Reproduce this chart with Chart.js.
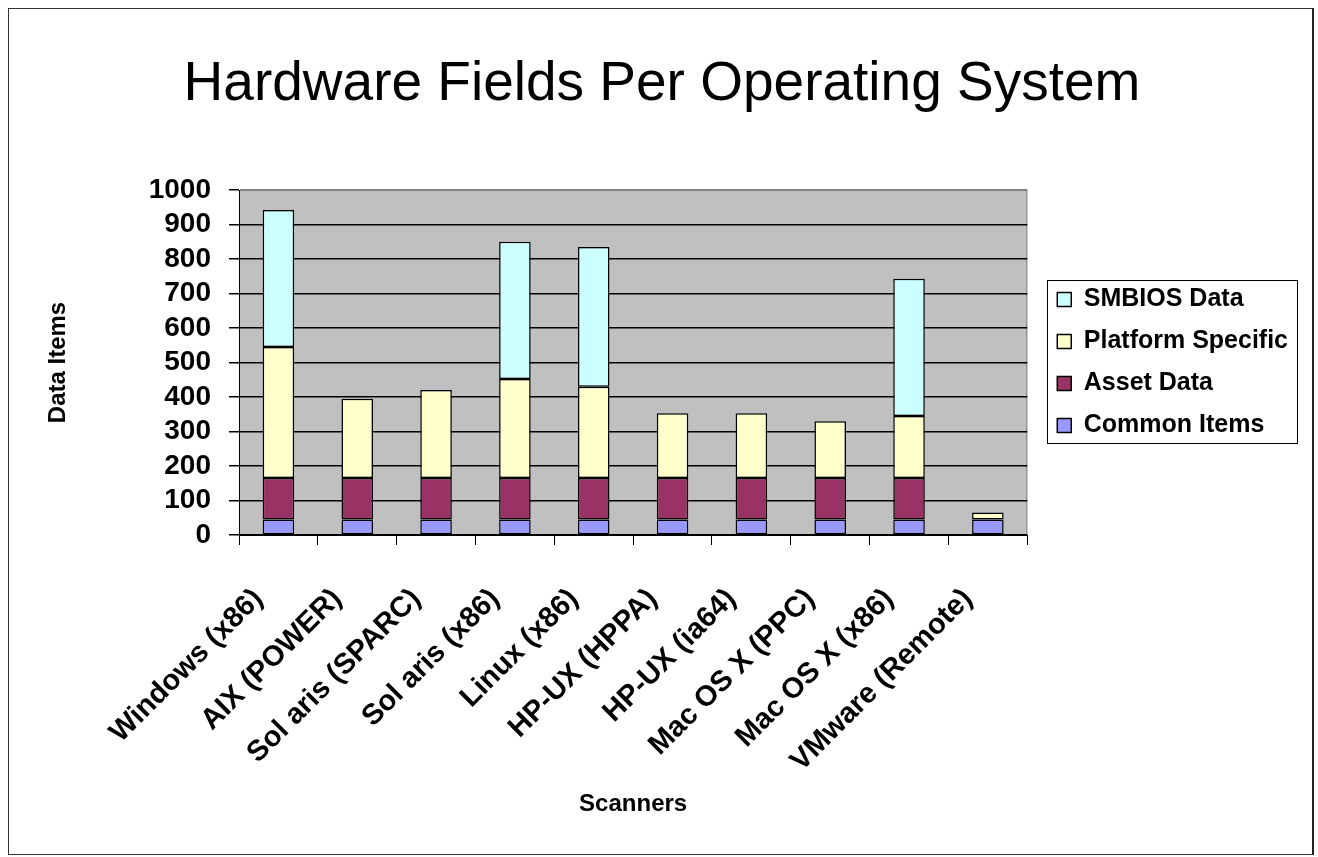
<!DOCTYPE html>
<html lang="en">
<head>
    <meta charset="UTF-8">
    <title>Hardware Fields Per Operating System</title>
    <script src="https://cdn.jsdelivr.net/npm/chart.js"></script>
    <style>
        body {
            margin: 0;
            background-color: #fff;
        }

        #frame {
            position: absolute;
            left: 8px;
            top: 8px;
            width: 1303px;
            height: 845px;
            border: 1px solid #333;
            border-right: 2px solid #222;
        }

        #chartBox {
            position: absolute;
            left: 0;
            top: 0;
            width: 1318px;
            height: 857px;
        }
    </style>
</head>
<body>
    <div id="frame"></div>
    <div id="chartBox">
        <canvas id="hwChart" width="1318" height="857"></canvas>
    </div>

    <script>
        // Data
        var scanners = ['Windows (x86)', 'AIX (POWER)', 'Sol aris (SPARC)', 'Sol aris (x86)', 'Linux (x86)',
            'HP-UX (HPPA)', 'HP-UX (ia64)', 'Mac OS X (PPC)', 'Mac OS X (x86)', 'VMware (Remote)'];
        var commonItems = [45, 45, 45, 45, 45, 45, 45, 45, 45, 45];
        var assetData = [120, 120, 120, 120, 120, 120, 120, 120, 120, 0];
        var platformSpecific = [380, 230, 255, 287, 265, 188, 188, 165, 180, 20];
        var smbiosData = [397, 0, 0, 398, 405, 0, 0, 0, 398, 0];

        // Fill the plot area grey and draw its outline
        var plotBackground = {
            id: 'plotBackground',
            beforeDraw: function(chart) {
                var a = chart.chartArea;
                var ctx = chart.ctx;
                ctx.save();
                ctx.fillStyle = '#c0c0c0';
                ctx.fillRect(a.left, a.top, a.right - a.left, a.bottom - a.top);
                ctx.strokeStyle = '#808080';
                ctx.lineWidth = 1;
                ctx.strokeRect(a.left + 0.5, a.top + 0.5, a.right - a.left - 1, a.bottom - a.top);
                ctx.restore();
            }
        };

        // Frame round the legend items
        var legendFrame = {
            id: 'legendFrame',
            afterDraw: function(chart) {
                var lg = chart.legend;
                if (!lg || !lg.legendHitBoxes.length) return;
                var boxes = lg.legendHitBoxes;
                var first = boxes[0];
                var last = boxes[boxes.length - 1];
                var ctx = chart.ctx;
                var x0 = first.left - 10;
                var y0 = first.top - 7;
                var x1 = lg.right - 1;
                var y1 = last.top + last.height + 5;
                ctx.save();
                ctx.strokeStyle = '#000';
                ctx.lineWidth = 1;
                ctx.strokeRect(Math.round(x0) + 0.5, Math.round(y0) + 0.5, Math.round(x1 - x0), Math.round(y1 - y0));
                ctx.restore();
            }
        };

        function makeSet(label, values, colour) {
            return {
                label: label,
                data: values,
                backgroundColor: colour,
                borderColor: '#000',
                borderWidth: 1.5,
                borderSkipped: false,
                barPercentage: 0.4,
                categoryPercentage: 1.0
            };
        }

        var ctx = document.getElementById('hwChart').getContext('2d');
        var hwChart = new Chart(ctx, {
            type: 'bar',
            data: {
                labels: scanners,
                datasets: [
                    makeSet('Common Items', commonItems, '#9999ff'),
                    makeSet('Asset Data', assetData, '#993366'),
                    makeSet('Platform Specific', platformSpecific, '#ffffcc'),
                    makeSet('SMBIOS Data', smbiosData, '#ccffff')
                ]
            },
            options: {
                responsive: false,
                animation: false,
                layout: {
                    padding: { left: 26, right: 20, top: 0, bottom: 0 }
                },
                plugins: {
                    title: {
                        display: true,
                        text: 'Hardware Fields Per Operating System',
                        color: '#000',
                        font: { family: 'Liberation Sans, Arial, sans-serif', size: 55, weight: 'normal' },
                        padding: { top: 52, bottom: 72 }
                    },
                    legend: {
                        position: 'right',
                        fullSize: false,
                        reverse: true,
                        maxWidth: 320,
                        labels: {
                            color: '#000',
                            boxWidth: 14,
                            boxHeight: 14,
                            padding: 17,
                            font: { family: 'Liberation Sans, Arial, sans-serif', size: 25, weight: 'bold' }
                        }
                    },
                    tooltip: { enabled: false }
                },
                scales: {
                    x: {
                        stacked: true,
                        grid: {
                            drawOnChartArea: false,
                            color: '#000',
                            tickLength: 10
                        },
                        border: { color: '#000', width: 1 },
                        ticks: {
                            color: '#000',
                            minRotation: 45,
                            maxRotation: 45,
                            padding: 37,
                            labelOffset: -20,
                            autoSkip: false,
                            font: { family: 'Liberation Sans, Arial, sans-serif', size: 29, weight: 'bold' }
                        },
                        title: {
                            display: true,
                            text: 'Scanners',
                            color: '#000',
                            font: { family: 'Liberation Sans, Arial, sans-serif', size: 24, weight: 'bold' },
                            padding: { top: 0, bottom: 38 }
                        },
                        afterFit: function(scale) {
                            scale.height = 322;
                        }
                    },
                    y: {
                        stacked: true,
                        min: 0,
                        max: 1000,
                        ticks: {
                            stepSize: 100,
                            autoSkip: false,
                            color: '#000',
                            padding: 18,
                            font: { family: 'Liberation Sans, Arial, sans-serif', size: 28, weight: 'bold' },
                            callback: function(v) { return String(v); }
                        },
                        grid: {
                            color: function(c) { return c.tick && c.tick.value === 1000 ? '#808080' : '#000'; },
                            tickColor: '#000',
                            lineWidth: 1.5,
                            tickLength: 10
                        },
                        border: { color: '#000', width: 1 },
                        title: {
                            display: true,
                            text: 'Data Items',
                            color: '#000',
                            font: { family: 'Liberation Sans, Arial, sans-serif', size: 24, weight: 'bold' },
                            padding: { top: 18, bottom: 0 }
                        },
                        afterFit: function(scale) {
                            scale.width = 213;
                        }
                    },
                    // empty spacer between the plot and the legend
                    gap: {
                        type: 'linear',
                        position: 'right',
                        display: true,
                        grid: { display: false },
                        border: { display: false },
                        ticks: { display: false },
                        afterFit: function(scale) {
                            scale.width = 13;
                        }
                    }
                }
            },
            plugins: [plotBackground, legendFrame]
        });
    </script>
</body>
</html>
